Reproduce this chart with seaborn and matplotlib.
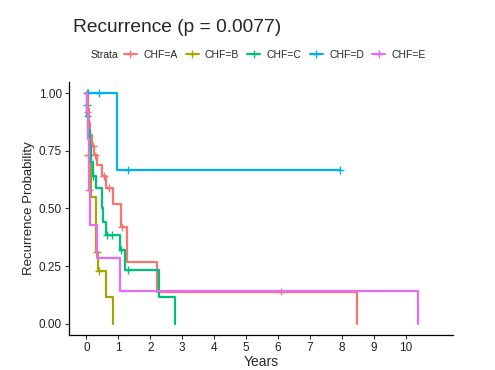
import pandas as pd
import seaborn as sns
import matplotlib.pyplot as plt
from matplotlib.lines import Line2D

# Kaplan-Meier step points (time in years, recurrence probability)
a_time = [0, 0.05, 0.08, 0.12, 0.18, 0.25, 0.32, 0.5, 0.62, 0.84, 1.08, 1.28, 2.2, 8.48]
a_surv = [1.0, 0.93, 0.87, 0.82, 0.77, 0.73, 0.69, 0.64, 0.59, 0.52, 0.42, 0.27, 0.14, 0.0]
b_time = [0, 0.02, 0.05, 0.1, 0.15, 0.3, 0.36, 0.63, 0.84]
b_surv = [1.0, 0.91, 0.82, 0.73, 0.55, 0.31, 0.23, 0.115, 0.0]
c_time = [0, 0.01, 0.03, 0.06, 0.1, 0.14, 0.2, 0.3, 0.48, 0.52, 0.6, 1.05, 1.21, 2.27, 2.78]
c_surv = [1.0, 0.95, 0.9, 0.84, 0.77, 0.7, 0.64, 0.59, 0.5, 0.44, 0.385, 0.32, 0.234, 0.118, 0.0]
d_time = [0, 0.95, 7.95]
d_surv = [1.0, 0.667, 0.667]
e_time = [0, 0.03, 0.05, 0.07, 0.09, 0.1, 0.32, 1.05, 10.4]
e_surv = [1.0, 0.92, 0.8, 0.7, 0.58, 0.43, 0.286, 0.143, 0.0]

# censored observations
a_cens_t = [0.2, 0.28, 0.55, 0.7, 1.12, 6.1]
a_cens_s = [0.77, 0.73, 0.64, 0.59, 0.42, 0.14]
b_cens_t = [0.01, 0.06, 0.34, 0.4]
b_cens_s = [1.0, 0.73, 0.31, 0.23]
c_cens_t = [0.02, 0.04, 0.22, 0.65, 0.8, 1.1, 1.3]
c_cens_s = [0.95, 0.9, 0.64, 0.385, 0.385, 0.32, 0.234]
d_cens_t = [0.05, 0.4, 1.3, 7.95]
d_cens_s = [1.0, 1.0, 0.667, 0.667]
e_cens_t = [0.03, 0.08]
e_cens_s = [0.92, 0.58]

strata = ["CHF=A", "CHF=B", "CHF=C", "CHF=D", "CHF=E"]
colors = ["#F8766D", "#A3A500", "#00BF7D", "#00B0F6", "#E76BF3"]

steps = pd.concat([
    pd.DataFrame({"Years": t, "Prob": s, "Strata": k})
    for t, s, k in zip([a_time, b_time, c_time, d_time, e_time],
                       [a_surv, b_surv, c_surv, d_surv, e_surv], strata)
])
cens = pd.concat([
    pd.DataFrame({"Years": t, "Prob": s, "Strata": k})
    for t, s, k in zip([a_cens_t, b_cens_t, c_cens_t, d_cens_t, e_cens_t],
                       [a_cens_s, b_cens_s, c_cens_s, d_cens_s, e_cens_s], strata)
])

sns.set_theme(style="white")
plt.rcParams["font.family"] = ["Liberation Sans", "DejaVu Sans"]

fig = plt.figure(figsize=(4.95, 3.7), dpi=100)
ax = fig.add_axes([0.139, 0.095, 0.777, 0.683])

sns.lineplot(data=steps, x="Years", y="Prob", hue="Strata", hue_order=strata,
             palette=colors, drawstyle="steps-post", estimator=None,
             linewidth=1.6, legend=False, ax=ax)
sns.scatterplot(data=cens, x="Years", y="Prob", hue="Strata", hue_order=strata,
                palette=colors, marker="+", s=30, linewidth=1.0,
                legend=False, ax=ax)

ax.set_xlim(-0.55, 11.5)
ax.set_ylim(-0.048, 1.048)
ax.set_xticks(range(0, 11))
ax.set_yticks([0, 0.25, 0.5, 0.75, 1.0])
ax.set_yticklabels(["0.00", "0.25", "0.50", "0.75", "1.00"])
ax.tick_params(axis="both", which="major", length=3, width=0.8, color="#333333",
               labelsize=8.5, labelcolor="#222222", pad=2, bottom=True, left=True)
sns.despine(ax=ax)
for sp in ["left", "bottom"]:
    ax.spines[sp].set_color("black")
    ax.spines[sp].set_linewidth(0.9)
ax.set_xlabel("Years", fontsize=10, labelpad=1)
ax.set_ylabel("Recurrence Probability", fontsize=9.5, labelpad=3)

fig.text(0.147, 0.925, "Recurrence (p = 0.0077)", fontsize=13.8, va="center", ha="left")
fig.text(0.182, 0.851, "Strata", fontsize=7.5, va="center", ha="left")
handles = [Line2D([0], [0], color=c, lw=1.5, marker="+", markersize=6) for c in colors]
fig.legend(handles, strata, loc="center left", bbox_to_anchor=(0.250, 0.851),
           ncol=5, frameon=False, fontsize=7.5, handlelength=1.25, handletextpad=0.6,
           columnspacing=0.8, borderpad=0, borderaxespad=0)

plt.savefig("out.png", dpi=100)
